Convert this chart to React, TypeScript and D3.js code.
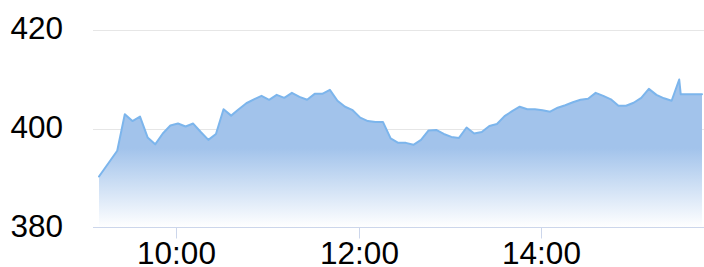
import React from "react";
import * as d3 from "d3";

const times: string[] = [
  "09:09", "09:21",
  "09:26", "09:31", "09:36", "09:41", "09:46", "09:51", "09:56",
  "10:01", "10:06", "10:11", "10:16", "10:21", "10:26", "10:31", "10:36", "10:41", "10:46", "10:51", "10:56",
  "11:01", "11:06", "11:11", "11:16", "11:21", "11:26", "11:31", "11:36", "11:41", "11:46", "11:51", "11:56",
  "12:01", "12:06", "12:11", "12:16", "12:21", "12:26", "12:31", "12:36", "12:41", "12:46", "12:51", "12:56",
  "13:01", "13:06", "13:11", "13:16", "13:21", "13:26", "13:31", "13:36", "13:41", "13:46", "13:51", "13:56",
  "14:01", "14:06", "14:11", "14:16", "14:21", "14:26", "14:31", "14:36", "14:41", "14:46", "14:51", "14:56",
  "15:01", "15:06", "15:11", "15:16", "15:21", "15:26", "15:31", "15:32", "15:46",
];

const values: number[] = [
  390.3, 395.5,
  402.9, 401.5, 402.4, 398.2, 396.8, 399.0, 400.6,
  401.0, 400.4, 401.0, 399.3, 397.7, 398.9, 403.9, 402.6, 403.9, 405.1, 405.9, 406.6,
  405.8, 406.8, 406.2, 407.2, 406.4, 405.8, 407.0, 407.0, 407.8, 405.6, 404.4, 403.7,
  402.2, 401.5, 401.3, 401.3, 398.0, 397.1, 397.1, 396.7, 397.7, 399.6, 399.7, 398.9,
  398.3, 398.1, 400.2, 399.0, 399.3, 400.5, 400.9, 402.5, 403.5, 404.4, 403.9, 403.9,
  403.7, 403.4, 404.2, 404.7, 405.3, 405.8, 406.0, 407.2, 406.6, 405.9, 404.6, 404.6,
  405.2, 406.2, 408.0, 406.8, 406.1, 405.6, 409.9, 406.9, 406.9,
];

const xTickLabels: string[] = ["10:00", "12:00", "14:00"];
const yTickValues: number[] = [380, 400, 420];

const toMin = (s: string) => {
  const [h, m] = s.split(":").map(Number);
  return h * 60 + m;
};

export default function App() {
  const W = 704;
  const H = 267;
  const plotLeft = 93;
  const plotRight = 704;
  const data = times.map((t, i) => ({ t: toMin(t), v: values[i] }));

  const x = d3
    .scaleLinear()
    .domain(d3.extent(data, (d) => d.t) as [number, number])
    .range([99, 702]);
  const y = d3.scaleLinear().domain([380, 420]).range([227.5, 29.5]);

  const area = d3
    .area<{ t: number; v: number }>()
    .x((d) => x(d.t))
    .y0(y(380))
    .y1((d) => y(d.v));
  const line = d3
    .line<{ t: number; v: number }>()
    .x((d) => x(d.t))
    .y((d) => y(d.v));

  const font = "'Liberation Sans', Arial, Helvetica, sans-serif";

  return (
    <svg
      width={W}
      height={H}
      style={{ position: "absolute", left: 0, top: 0, display: "block" }}
    >
      <defs>
        <linearGradient
          id="fillGrad"
          gradientUnits="userSpaceOnUse"
          x1={0}
          y1={y(420)}
          x2={0}
          y2={y(380)}
        >
          <stop offset="0" stopColor="#a2c3eb" />
          <stop offset="0.6" stopColor="#a2c3eb" />
          <stop offset="1" stopColor="#ffffff" />
        </linearGradient>
      </defs>
      {yTickValues
        .filter((v) => v !== 380)
        .map((v) => (
          <line
            key={"g" + v}
            x1={plotLeft}
            x2={plotRight}
            y1={Math.round(y(v)) + 0.5}
            y2={Math.round(y(v)) + 0.5}
            stroke="#e6e6e6"
            strokeWidth={1}
          />
        ))}
      <path d={area(data) || ""} fill="url(#fillGrad)" />
      <path
        d={line(data) || ""}
        fill="none"
        stroke="#7cb5ec"
        strokeWidth={2}
        strokeLinejoin="round"
        strokeLinecap="round"
      />
      <line
        x1={plotLeft}
        x2={plotRight}
        y1={y(380)}
        y2={y(380)}
        stroke="#ccd6eb"
        strokeWidth={1}
      />
      {xTickLabels.map((lab) => {
        const px = Math.round(x(toMin(lab))) + 0.5;
        return (
          <g key={lab}>
            <line
              x1={px}
              x2={px}
              y1={y(380)}
              y2={y(380) + 11}
              stroke="#ccd6eb"
              strokeWidth={1}
            />
            <text
              x={px}
              y={264}
              textAnchor="middle"
              fontFamily={font}
              fontSize={31.5}
              fill="#000000"
            >
              {lab}
            </text>
          </g>
        );
      })}
      {yTickValues.map((v) => (
        <text
          key={"l" + v}
          x={63}
          y={y(v) + 9}
          textAnchor="end"
          fontFamily={font}
          fontSize={31.5}
          fill="#000000"
        >
          {v}
        </text>
      ))}
    </svg>
  );
}
